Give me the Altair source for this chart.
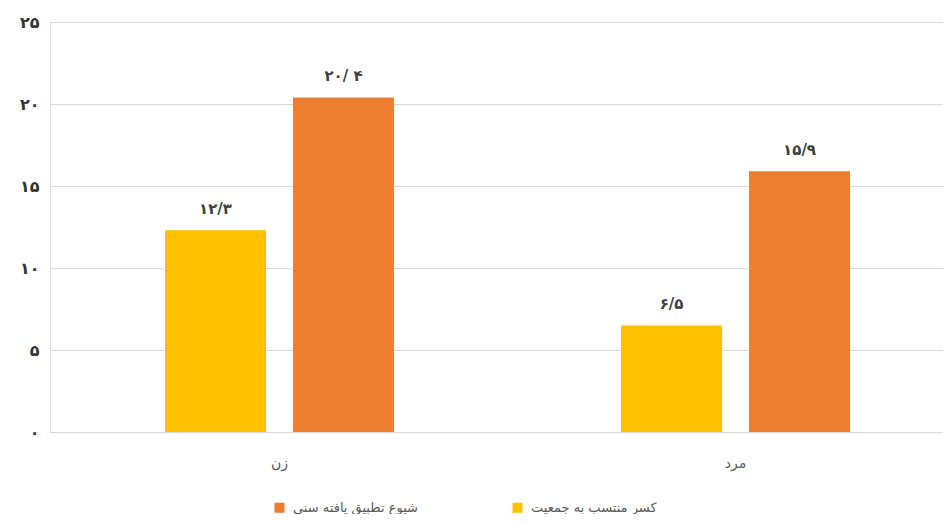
import altair as alt
import pandas as pd

categories = ["زن", "مرد"]
series = ["کسر منتسب به جمعیت", "شیوع تطبیق یافته سنی"]
values_yellow = [12.3, 6.5]
values_orange = [20.4, 15.9]
labels_yellow = ["۱۲/۳", "۶/۵"]
labels_orange = ["۲۰/ ۴", "۱۵/۹"]
y_ticks = [0, 5, 10, 15, 20, 25]
y_tick_labels = ["۰", "۵", "۱۰", "۱۵", "۲۰", "۲۵"]
colors = ["#FFC000", "#ED7D31"]

rows = []
for i, c in enumerate(categories):
    rows.append(dict(cat=c, series=series[0], value=values_yellow[i], label=labels_yellow[i]))
    rows.append(dict(cat=c, series=series[1], value=values_orange[i], label=labels_orange[i]))
df = pd.DataFrame(rows)

label_expr = " : ".join(
    f"datum.value == {v} ? '{t}'" for v, t in zip(y_ticks, y_tick_labels)
) + " : datum.label"

FONT = "DejaVu Sans"

x = alt.X(
    "cat:N",
    sort=categories,
    scale=alt.Scale(paddingInner=0.498, paddingOuter=0.228, align=0.553),
    axis=alt.Axis(title=None, labelAngle=0, ticks=False, tickSize=0, domain=False,
                  labelPadding=24, labelFontSize=14, labelColor="#595959", labelFont=FONT),
)
xoff = alt.XOffset("series:N", sort=series, scale=alt.Scale(paddingInner=0.211, paddingOuter=0))
y = alt.Y(
    "value:Q",
    scale=alt.Scale(domain=[0, 25], nice=False),
    axis=alt.Axis(values=y_ticks, labelExpr=label_expr, title=None, domain=False, ticks=False,
                  tickSize=0, labelPadding=11, gridColor="#d9d9d9", labelFontSize=16,
                  labelFontWeight="bold", labelColor="#333333", labelFont=FONT),
)
color = alt.Color(
    "series:N",
    scale=alt.Scale(domain=[series[1], series[0]], range=[colors[1], colors[0]]),
    legend=alt.Legend(title=None, orient="none", legendX=223, legendY=479, direction="horizontal",
                      symbolType="square", symbolSize=100, symbolStrokeWidth=0,
                      labelFontSize=13, labelColor="#595959", labelFont=FONT,
                      labelOffset=7, columnPadding=93, labelLimit=300),
)

base = alt.Chart(df).encode(x=x, xOffset=xoff, y=y)
bars = base.mark_bar().encode(color=color)
text = base.mark_text(dy=-13, baseline="bottom", fontWeight="bold", fontSize=15,
                      color="#404040", font=FONT).encode(text="label:N")

chart = (bars + text).properties(
    width=893, height=410,
    padding={"left": 42, "top": 14, "right": 0, "bottom": 82},
    autosize=alt.AutoSizeParams(type="none"),
).configure_view(stroke=None).configure(background="white")

chart.save("out.html", embed_options={"renderer": "svg", "actions": False})
